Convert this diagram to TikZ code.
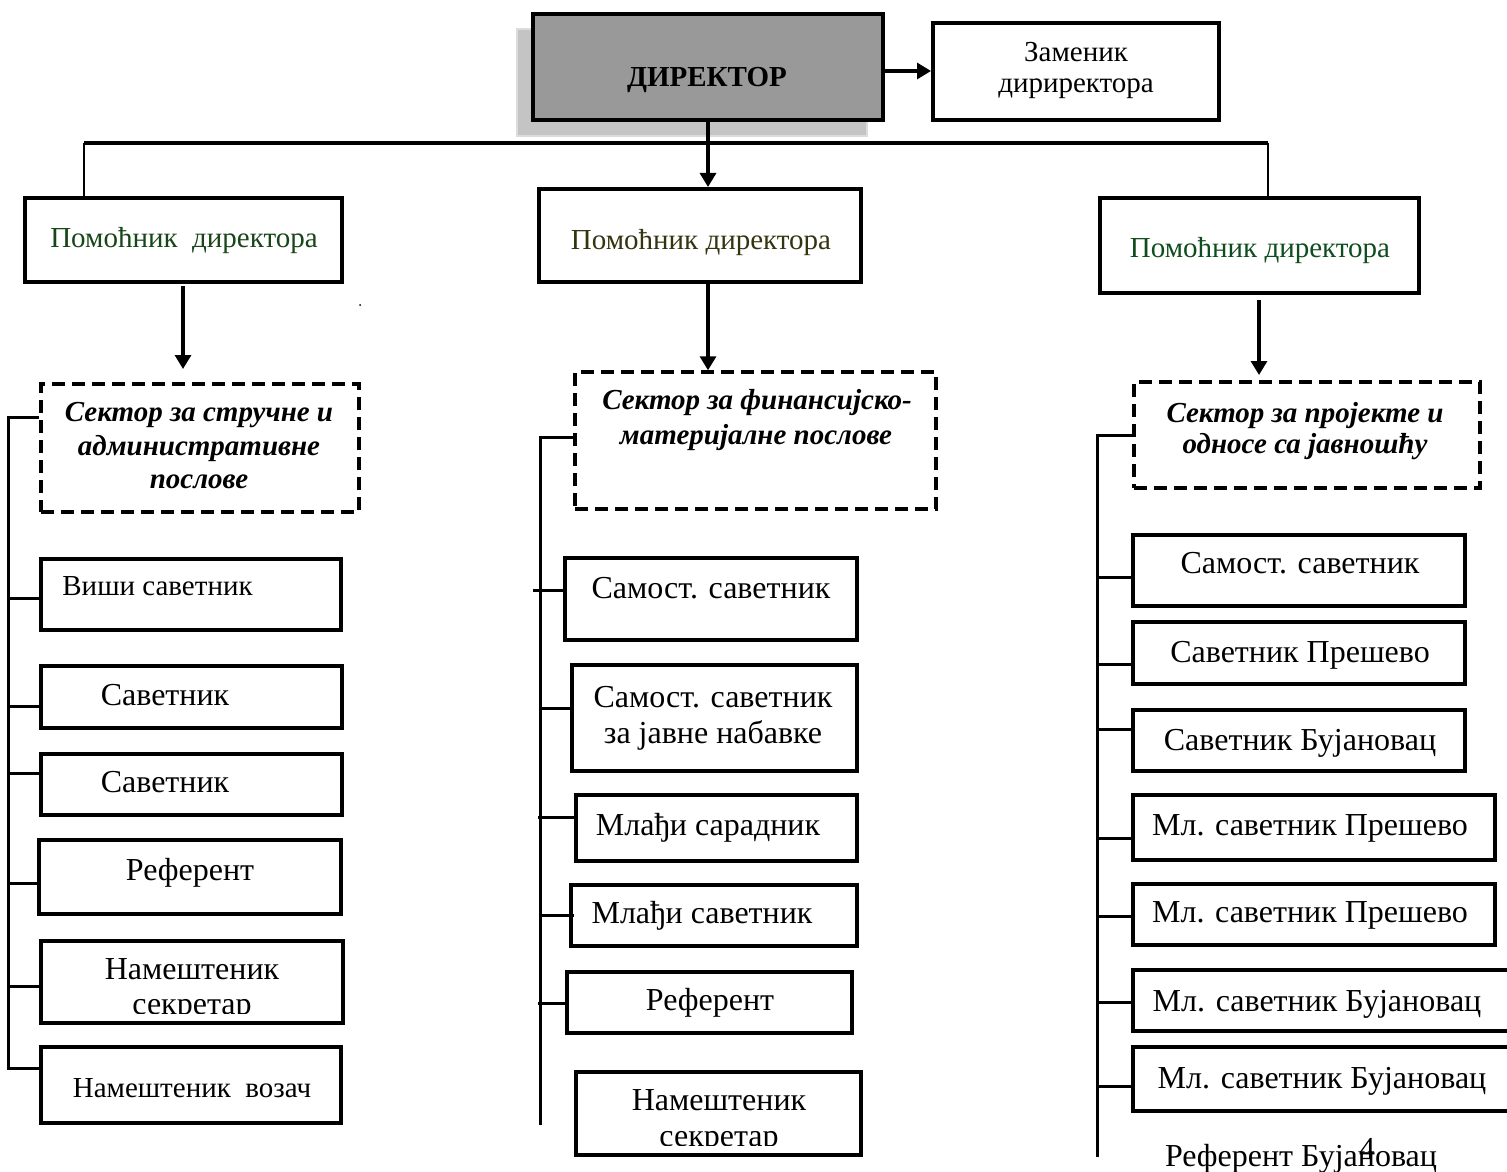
\documentclass[tikz,border=0pt]{standalone}
\usepackage{fontspec}
\setmainfont{Liberation Serif}
\usetikzlibrary{arrows.meta}
\definecolor{grnA}{RGB}{24,70,24}
\definecolor{grnB}{RGB}{52,52,16}
\definecolor{grnC}{RGB}{14,78,30}
\definecolor{dirgray}{RGB}{153,153,153}
\definecolor{shadgray}{RGB}{196,196,196}
\definecolor{shadedge}{RGB}{220,220,220}
\newcommand\mkbox[6][bx]{%
  \node[#1, minimum width={(#5-#3-4)*0.5pt}, minimum height={(#6-#4-4)*0.5pt}]
    (#2) at ({(#3+#5)/2},{(#4+#6)/2}) {};}
\begin{document}
\begin{tikzpicture}[x=0.5pt,y=-0.5pt,
  bx/.style={draw, line width=2pt, inner sep=0pt, rectangle},
  dbx/.style={draw, line width=1.7pt, dash pattern=on 6.5pt off 3.5pt, inner sep=0pt, rectangle},
  dirbox/.style={bx, fill=dirgray},
  shadbox/.style={draw=shadedge, line width=0.8pt, fill=shadgray, inner sep=0pt, rectangle},
  busln/.style={line width=2pt},
  thinln/.style={line width=1pt},
  brln/.style={line width=1.5pt},
  arr/.style={line width=1.6pt, -{Triangle[width=8pt,length=7pt]}},
  tA/.style={font=\fontsize{16}{19}\selectfont, inner sep=0pt, anchor=base},
  tB/.style={font=\fontsize{14.5}{17}\selectfont, inner sep=0pt, anchor=base},
  tS/.style={font=\fontsize{14.5}{17}\selectfont\bfseries\itshape, inner sep=0pt, anchor=base},
  tD/.style={font=\fontsize{14.5}{17}\selectfont\bfseries, inner sep=0pt, anchor=base}
]
\useasboundingbox (0,0) rectangle (1507,1171);

% ---- top level
\mkbox[shadbox]{shad}{515}{27}{869}{138}
\mkbox[dirbox]{dir}{531}{12}{885}{122}
\node[tD] (tdir) at (707,87) {ДИРЕКТОР};
\mkbox{zam}{931}{21}{1221}{122}
\node[tB] (tzam1) at (1076,62) {Заменик};
\node[tB] (tzam2) at (1076,93) {дириректора};
\coordinate (zy) at (900,71);
\draw[arr] (dir.east |- zy) -- (zam.west |- zy);

% ---- assistants
\mkbox{pa1}{23}{196}{344}{284}
\mkbox{pa2}{537}{187}{863}{284}
\mkbox{pa3}{1098}{196}{1421}{295}
\node[tB, text=grnA] (tpa1) at (184,248) {Помоћник\ \ директора};
\node[tB, text=grnB] (tpa2) at (701,250) {Помоћник директора};
\node[tB, text=grnC] (tpa3) at (1260,258) {Помоћник директора};

\coordinate (busL) at (84,143);
\coordinate (busR) at (1268,143);
\draw[busln] (busL) -- (busR);
\draw[thinln] (busL) -- (busL |- pa1.north);
\draw[thinln] (busR) -- (busR |- pa3.north);
\coordinate (dx) at (708,143);
\draw[arr] (dir.south -| dx) -- (pa2.north -| dx);

\fill (360,305) circle (1);

% ---- sectors
\mkbox[dbx]{sec1}{39}{382}{361}{514}
\mkbox[dbx]{sec2}{573}{370}{938}{511}
\mkbox[dbx]{sec3}{1132}{380}{1482}{490}
\node[tS] (ts11) at (199,421) {Сектор за стручне и};
\node[tS] (ts12) at (199,455) {административне};
\node[tS] (ts13) at (199,488) {послове};
\node[tS] (ts21) at (757,409) {Сектор за финансијско-};
\node[tS] (ts22) at (756,444) {материјалне послове};
\node[tS] (ts31) at (1305,422) {Сектор за пројекте и};
\node[tS] (ts32) at (1305,453) {односе са јавношћу};

\coordinate (a1s) at (183,286);
\coordinate (a1e) at (183,369);
\draw[arr] (a1s) -- (a1e);
\coordinate (a2x) at (708,300);
\draw[arr] (pa2.south -| a2x) -- (sec2.north -| a2x);
\coordinate (a3s) at (1259,300);
\coordinate (a3e) at (1259,375);
\draw[arr] (a3s) -- (a3e);

% ---- left column
\mkbox{l1}{39}{557}{343}{632}
\mkbox{l2}{39}{664}{344}{730}
\mkbox{l3}{39}{752}{344}{817}
\mkbox{l4}{37}{838}{343}{916}
\mkbox{l5}{39}{939}{345}{1025}
\mkbox{l6}{39}{1045}{343}{1125}
\node[tB, anchor=base west] (tl1) at (62,595) {Виши саветник};
\node[tA] (tl2) at (165,705) {Саветник};
\node[tA] (tl3) at (165,792) {Саветник};
\node[tA] (tl4) at (190,880) {Референт};
\node[tA] (tl5a) at (192,979) {Намештеник};
\begin{scope}
  \clip (39,990) rectangle (345,1013);
  \node[tA] (tl5b) at (192,1014) {секретар};
\end{scope}
\node[tB] (tl6) at (192,1097) {Намештеник\ \ возач};

\coordinate (lvA) at (8,417);
\coordinate (lvB) at (8,1068);
\coordinate (ls1) at (8,598);
\coordinate (ls2) at (8,706);
\coordinate (ls3) at (8,773);
\coordinate (ls4) at (8,883);
\coordinate (ls5) at (8,986);
\draw[brln] (sec1.west |- lvA) -- (lvA) -- (lvB) -- (l6.west |- lvB);
\draw[brln] (ls1) -- (l1.west |- ls1);
\draw[brln] (ls2) -- (l2.west |- ls2);
\draw[brln] (ls3) -- (l3.west |- ls3);
\draw[brln] (ls4) -- (l4.west |- ls4);
\draw[brln] (ls5) -- (l5.west |- ls5);

% ---- middle column
\mkbox{m1}{563}{556}{859}{642}
\mkbox{m2}{570}{663}{859}{773}
\mkbox{m3}{574}{793}{859}{863}
\mkbox{m4}{569}{883}{859}{948}
\mkbox{m5}{565}{970}{854}{1035}
\mkbox{m6}{574}{1070}{863}{1157}
\node[tA] (tm1) at (711,598) {Самост. саветник};
\node[tA] (tm2a) at (713,707) {Самост. саветник};
\node[tA] (tm2b) at (713,743) {за јавне набавке};
\node[tA] (tm3) at (708,835) {Млађи сарадник};
\node[tA] (tm4) at (702,923) {Млађи саветник};
\node[tA] (tm5) at (710,1010) {Референт};
\node[tA] (tm6a) at (719,1110) {Намештеник};
\begin{scope}
  \clip (574,1120) rectangle (863,1145);
  \node[tA] (tm6b) at (719,1146) {секретар};
\end{scope}

\coordinate (mvA) at (540,437);
\coordinate (mvB) at (540,1125);
\coordinate (ms1) at (533,590);
\coordinate (ms2) at (540,708);
\coordinate (ms3) at (538,817);
\coordinate (ms4) at (540,915);
\coordinate (ms5) at (538,1003);
\draw[brln] (sec2.west |- mvA) -- (mvA) -- (mvB);
\draw[brln] (ms1) -- (m1.west |- ms1);
\draw[brln] (ms2) -- (m2.west |- ms2);
\draw[brln] (ms3) -- (m3.west |- ms3);
\draw[brln] (ms4) -- (m3.west |- ms4);
\draw[brln] (ms5) -- (m5.west |- ms5);

% ---- right column
\mkbox{r1}{1131}{533}{1467}{608}
\mkbox{r2}{1131}{620}{1467}{686}
\mkbox{r3}{1131}{708}{1467}{773}
\mkbox{r4}{1131}{793}{1497}{862}
\mkbox{r5}{1131}{882}{1497}{947}
\mkbox{r6}{1131}{968}{1517}{1033}
\mkbox{r7}{1131}{1045}{1517}{1113}
\node[tA] (tr1) at (1300,573) {Самост. саветник};
\node[tA] (tr2) at (1300,662) {Саветник Прешево};
\node[tA] (tr3) at (1300,750) {Саветник Бујановац};
\node[tA] (tr4) at (1310,835) {Мл. саветник Прешево};
\node[tA] (tr5) at (1310,922) {Мл. саветник Прешево};
\node[tA] (tr6) at (1317,1011) {Мл. саветник Бујановац};
\node[tA] (tr7) at (1322,1088) {Мл. саветник Бујановац};
\node[tA] (tr8) at (1301,1166) {Референт Бујановац};
\node[tA] (pgnum) at (1367,1159) {4};

\coordinate (rvA) at (1097,435);
\coordinate (rvB) at (1097,1157);
\coordinate (rs1) at (1097,577);
\coordinate (rs2) at (1097,664);
\coordinate (rs3) at (1097,729);
\coordinate (rs4) at (1097,838);
\coordinate (rs5) at (1097,916);
\coordinate (rs6) at (1097,1002);
\coordinate (rs7) at (1097,1086);
\draw[brln] (sec3.west |- rvA) -- (rvA) -- (rvB);
\draw[brln] (rs1) -- (r1.west |- rs1);
\draw[brln] (rs2) -- (r2.west |- rs2);
\draw[brln] (rs3) -- (r3.west |- rs3);
\draw[brln] (rs4) -- (r4.west |- rs4);
\draw[brln] (rs5) -- (r5.west |- rs5);
\draw[brln] (rs6) -- (r6.west |- rs6);
\draw[brln] (rs7) -- (r7.west |- rs7);
\end{tikzpicture}
\end{document}
